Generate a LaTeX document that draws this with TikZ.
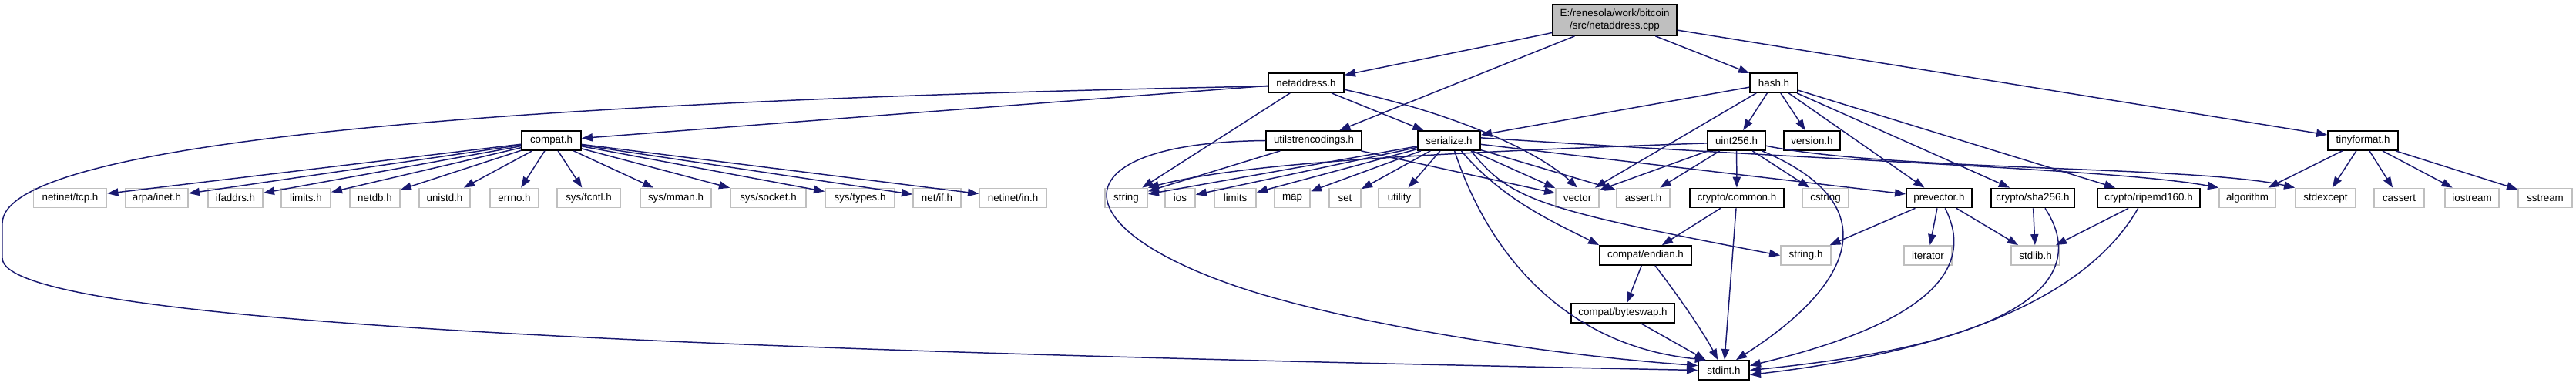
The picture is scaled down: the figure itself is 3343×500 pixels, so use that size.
\documentclass[tikz,border=0pt]{standalone}
\usepackage{fontspec}
\newfontfamily\labfont{Liberation Sans}
\usetikzlibrary{arrows.meta}
\definecolor{eb}{HTML}{191970}
\definecolor{lg}{HTML}{BFBFBF}
\definecolor{rootfill}{HTML}{BFBFBF}
\tikzset{
  box/.style={fill=white, line width=0.5pt, inner sep=0pt, minimum height=0.25cm, font=\labfont\fontsize{3.8pt}{4.4pt}\selectfont},
  intbox/.style={box, draw=black},
  extbox/.style={box, draw=lg},
  rootbox/.style={box, draw=black, fill=rootfill, minimum height=0.40cm, align=center},
  edge/.style={draw=eb, line width=0.42pt, -{Triangle[length=4pt,width=2.9pt]}},
}
\begin{document}
\begin{tikzpicture}[x=0.01cm,y=-0.01cm]
\useasboundingbox (0,0) rectangle (3343,500);
% root
\node[rootbox, minimum width=1.61cm] (root) at (2095.5,26) {E:/renesola/work/bitcoin\\/src/netaddress.cpp};
% rank 2
\node[intbox, minimum width=0.98cm] (na) at (1695,107.5) {netaddress.h};
\node[intbox, minimum width=0.62cm] (ha) at (2302,107.5) {hash.h};
% rank 3
\node[intbox, minimum width=0.77cm] (cp) at (715.5,182.5) {compat.h};
\node[intbox, minimum width=1.24cm] (ut) at (1705,182.5) {utilstrencodings.h};
\node[intbox, minimum width=0.81cm] (se) at (1880.5,182.5) {serialize.h};
\node[intbox, minimum width=0.75cm] (u) at (2253.5,182.5) {uint256.h};
\node[intbox, minimum width=0.73cm] (ver) at (2351.5,182.5) {version.h};
\node[intbox, minimum width=0.91cm] (tf) at (3066.5,182.5) {tinyformat.h};
% rank 4
\node[extbox, minimum width=0.95cm] (l1) at (91,257) {netinet/tcp.h};
\node[extbox, minimum width=0.81cm] (l2) at (203.5,257) {arpa/inet.h};
\node[extbox, minimum width=0.71cm] (l3) at (305.5,257) {ifaddrs.h};
\node[extbox, minimum width=0.64cm] (l4) at (397,257) {limits.h};
\node[extbox, minimum width=0.65cm] (l5) at (486.5,257) {netdb.h};
\node[extbox, minimum width=0.66cm] (l6) at (577,257) {unistd.h};
\node[extbox, minimum width=0.63cm] (l7) at (667.5,257) {errno.h};
\node[extbox, minimum width=0.82cm] (l8) at (764,257) {sys/fcntl.h};
\node[extbox, minimum width=0.92cm] (l9) at (877,257) {sys/mman.h};
\node[extbox, minimum width=0.98cm] (l10) at (997,257) {sys/socket.h};
\node[extbox, minimum width=0.90cm] (l11) at (1116,257) {sys/types.h};
\node[extbox, minimum width=0.62cm] (l12) at (1216,257) {net/if.h};
\node[extbox, minimum width=0.87cm] (l13) at (1314.5,257) {netinet/in.h};
\node[extbox, minimum width=0.55cm] (str) at (1461.5,257) {string};
\node[extbox, minimum width=0.39cm] (ios) at (1531.5,257) {ios};
\node[extbox, minimum width=0.54cm] (lim) at (1603,257) {limits};
\node[extbox, minimum width=0.46cm] (map) at (1677,257) {map};
\node[extbox, minimum width=0.41cm] (set) at (1745.5,257) {set};
\node[extbox, minimum width=0.54cm] (uti) at (1816,257) {utility};
\node[extbox, minimum width=0.56cm] (vec) at (2047,257) {vector};
\node[extbox, minimum width=0.69cm] (ass) at (2132.5,257) {assert.h};
\node[intbox, minimum width=1.22cm] (cc) at (2254,257) {crypto/common.h};
\node[extbox, minimum width=0.60cm] (cs) at (2369,257) {cstring};
\node[intbox, minimum width=0.85cm] (pv) at (2516.5,257) {prevector.h};
\node[intbox, minimum width=1.08cm] (sha) at (2638,257) {crypto/sha256.h};
\node[intbox, minimum width=1.33cm] (rip) at (2788.5,257) {crypto/ripemd160.h};
\node[extbox, minimum width=0.73cm] (al) at (2916.5,257) {algorithm};
\node[extbox, minimum width=0.78cm] (sx) at (3018,257) {stdexcept};
\node[extbox, minimum width=0.65cm] (cas) at (3113.5,257) {cassert};
\node[extbox, minimum width=0.70cm] (ios2) at (3208,257) {iostream};
\node[extbox, minimum width=0.70cm] (ss) at (3303,257) {sstream};
% rank 5
\node[intbox, minimum width=1.19cm] (en) at (2135.5,331.5) {compat/endian.h};
\node[extbox, minimum width=0.65cm] (sh) at (2343.5,331.5) {string.h};
\node[extbox, minimum width=0.62cm] (it) at (2502,331.5) {iterator};
\node[extbox, minimum width=0.63cm] (sl) at (2641.5,331.5) {stdlib.h};
% rank 6
\node[intbox, minimum width=1.34cm] (bs) at (2106,406.5) {compat/byteswap.h};
% rank 7
\node[intbox, minimum width=0.66cm] (st) at (2237,480.5) {stdint.h};

% edges from root
\draw[edge] (root) -- (na);
\draw[edge] (root) -- (ut);
\draw[edge] (root) -- (ha);
\draw[edge] (root) -- (tf);
% netaddress.h
\draw[edge] (na) -- (cp);
\draw[edge] (na.185) .. controls (700,130) and (3,180) .. (3,290) -- (3,335) .. controls (3,420) and (900,455) .. (st.west);
\draw[edge] (na) -- (str);
\draw[edge] (na) -- (se);
\draw[edge] (na.-10) .. controls (1900,150) and (2000,200) .. (vec.north);
% utilstrencodings.h
\draw[edge] (ut.west) .. controls (1380,185) and (1370,290) .. (1600,370) .. controls (1738,418) and (2000,460) .. (st.170);
\draw[edge] (ut) -- (str);
\draw[edge] (ut) -- (vec);
% hash.h
\draw[edge] (ha) -- (se);
\draw[edge] (ha) -- (vec);
\draw[edge] (ha) -- (u);
\draw[edge] (ha) -- (ver);
\draw[edge] (ha) -- (pv);
\draw[edge] (ha) -- (sha);
\draw[edge] (ha) -- (rip);
% compat.h
\foreach \n in {l1,l2,l3,l4,l5,l6,l7,l8,l9,l10,l11,l12,l13}{\draw[edge] (cp) -- (\n);}
% serialize.h
\foreach \n in {str,ios,lim,map,set,uti,vec,ass,pv}{\draw[edge] (se) -- (\n);}
\draw[edge] (se.-40) .. controls (1950,260) and (2020,290) .. (en.north west);
\draw[edge] (se.-25) .. controls (1960,260) and (2000,272) .. (sh.west);
\draw[edge] (se.-62) .. controls (1935,340) and (2040,450) .. (st.150);
\draw[edge] (se.5) .. controls (2400,210) and (2750,220) .. (al.north west);
% uint256.h
\draw[edge] (u.185) .. controls (1800,200) and (1600,215) .. (str.north east);
\draw[edge] (u) -- (vec);
\draw[edge] (u) -- (ass);
\draw[edge] (u) -- (cc);
\draw[edge] (u) -- (cs);
\draw[edge] (u.-10) .. controls (2450,222) and (2850,215) .. (sx.north west);
\draw[edge] (u.-22) .. controls (2440,260) and (2420,360) .. (st.40);
% tinyformat.h
\foreach \n in {al,sx,cas,ios2,ss}{\draw[edge] (tf) -- (\n);}
% crypto/common.h
\draw[edge] (cc) -- (en);
\draw[edge] (cc) -- (st);
% compat/endian.h
\draw[edge] (en) -- (bs);
\draw[edge] (en.-47) .. controls (2175,380) and (2210,430) .. (st.120);
% byteswap
\draw[edge] (bs) -- (st);
% prevector.h
\draw[edge] (pv) -- (sh);
\draw[edge] (pv) -- (it);
\draw[edge] (pv) -- (sl);
\draw[edge] (pv.-60) .. controls (2565,350) and (2500,420) .. (st.10);
% sha256
\draw[edge] (sha) -- (sl);
\draw[edge] (sha.-40) .. controls (2700,340) and (2680,440) .. (st.east);
% ripemd160
\draw[edge] (rip) -- (sl);
\draw[edge] (rip.-136) .. controls (2700,400) and (2500,460) .. (st.-10);
\end{tikzpicture}
\end{document}
